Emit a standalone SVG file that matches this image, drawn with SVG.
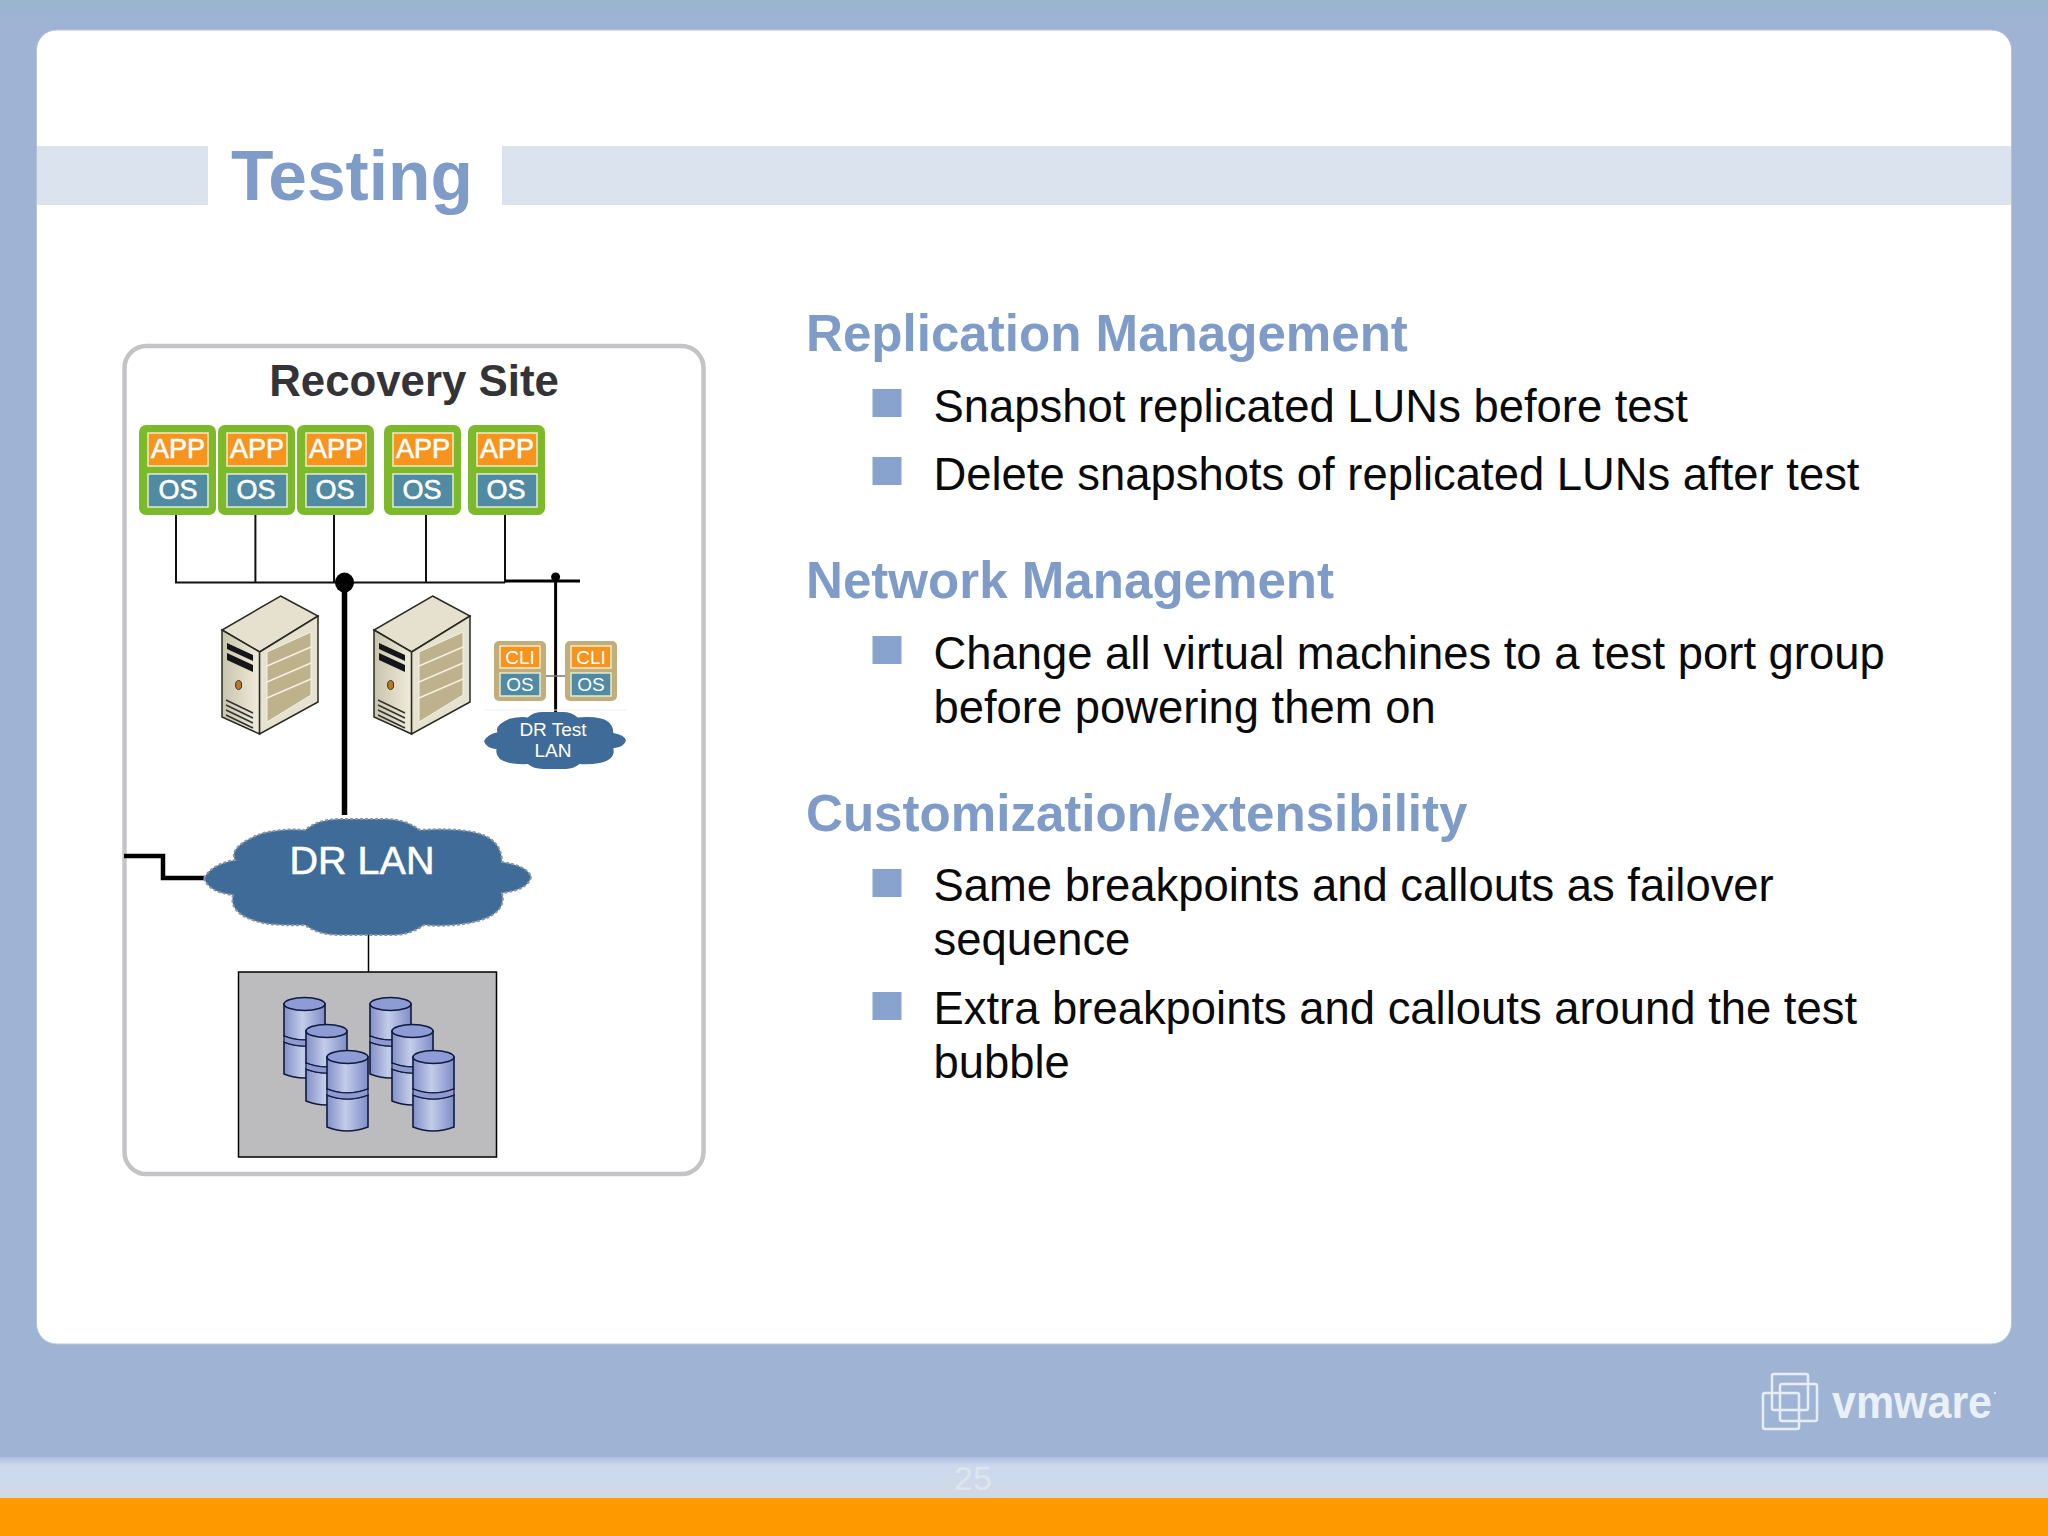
<svg xmlns="http://www.w3.org/2000/svg" xmlns:xlink="http://www.w3.org/1999/xlink" width="2048" height="1536" viewBox="0 0 2048 1536">
<style>
text{font-family:"Liberation Sans",Arial,sans-serif}
.h{font-size:51.100px;font-weight:700;fill:#7f9cc8}
.b{font-size:45.400px;fill:#0a0a0a}
.bu{fill:#88a3cd}
.vm{fill:#7cba2c}
.app{fill:#f7941d;stroke:#f4ecc4;stroke-width:1.5}
.os{fill:#508aa3;stroke:#e2ecd0;stroke-width:1.5}
.w{fill:#fff;text-anchor:middle}
.st{stroke:#fff;stroke-width:.6}
.c1{stroke:#111;stroke-width:2;fill:none}
.c2{stroke:#000;fill:none}
</style>
<defs>
<linearGradient id="bg" x1="0" y1="0" x2="0" y2="1"><stop offset="0" stop-color="#9ab5d0"/><stop offset=".02" stop-color="#9fb3d4"/><stop offset="1" stop-color="#9fb4d4"/></linearGradient>
<linearGradient id="strip" x1="0" y1="0" x2="0" y2="1"><stop offset="0" stop-color="#aec0de"/><stop offset=".2" stop-color="#cbd8ee"/><stop offset=".6" stop-color="#ced9ea"/><stop offset="1" stop-color="#d2dae0"/></linearGradient>
<linearGradient id="cyl" x1="0" y1="0" x2="1" y2="0"><stop offset="0" stop-color="#8390c8"/><stop offset=".45" stop-color="#c3cde8"/><stop offset="1" stop-color="#7f8dc8"/></linearGradient>
<linearGradient id="fl" x1="0" y1="0" x2="1" y2="0"><stop offset="0" stop-color="#c8c4ac"/><stop offset="1" stop-color="#f0ecdc"/></linearGradient>
<path id="cloud" d="M204 878Q212 864 235 860Q228 846 263 833Q285 828 305 830Q318 819 340 819L386 819Q405 819 420 830Q452 828 473 832Q502 838 502 862Q528 866 531 877Q528 890 502 893Q508 915 470 923Q445 927 424 925Q410 935 393 935L340 935Q318 935 305 925Q280 926 263 923Q228 915 233 895Q208 892 204 878Z"/>
<g id="cylinder">
<path d="M0 7V39Q20 47 41 39V7Z" fill="url(#cyl)" stroke="#101a40" stroke-width="1.6"/>
<path d="M0 45V77Q20 85 41 77V45Q20 53 0 45Z" fill="url(#cyl)" stroke="#101a40" stroke-width="1.6"/>
<path d="M0 39Q20 47 41 39V45Q20 53 0 45Z" fill="#8f9bd0" stroke="#101a40" stroke-width="1.2"/>
<ellipse cx="20.500" cy="7" rx="20.500" ry="6.500" fill="#8d9cd4" stroke="#101a40" stroke-width="1.6"/>
</g>
<g id="cylgroup">
<use xlink:href="#cylinder" href="#cylinder" x="0" y="0"/>
<use xlink:href="#cylinder" href="#cylinder" x="22" y="27"/>
<use xlink:href="#cylinder" href="#cylinder" x="43" y="53"/>
</g>
<g id="server">
<path d="M280.600 596L318 616L259.600 652L222 630Z" fill="#e6e1cf" stroke="#2a2a20" stroke-width="1.500"/>
<path d="M222 630L259.600 652V734L222 717Z" fill="url(#fl)" stroke="#2a2a20" stroke-width="1.500"/>
<path d="M259.600 652L318 616V702L259.600 734Z" fill="#e6e2d0" stroke="#2a2a20" stroke-width="1.500"/>
<path d="M267 652L311 632V695L267 722Z" fill="#bdb28c" stroke="#f5f1e0" stroke-width="1"/>
<path d="M267 666L311 647M267 682L311 663M267 698L311 679" stroke="#f5f1e0" stroke-width="1.500" fill="none"/>
<path d="M227 643L253 655V661L227 649ZM227 653L253 665V672L227 660Z" fill="#15151a"/>
<ellipse cx="238.600" cy="685" rx="3" ry="4.500" fill="#b87a20" stroke="#333" stroke-width="1"/>
<path d="M226 700L253 713M226 705L253 718M226 710L253 723M226 715L253 728" stroke="#333" stroke-width="1.500" fill="none"/>
</g>
</defs>

<rect width="2048" height="1536" fill="url(#bg)"/>
<rect x="36.500" y="30" width="1975" height="1314" rx="20" fill="#fff" stroke="#b4c3da" stroke-width="1"/>
<rect x="37" y="146" width="171" height="59" fill="#dbe3ee"/>
<rect x="502" y="146" width="1509" height="59" fill="#dbe3ee"/>
<rect y="1457" width="2048" height="41" fill="url(#strip)"/>
<rect y="1498" width="2048" height="38" fill="#ff9900"/>
<text x="973" y="1490" text-anchor="middle" font-size="34" fill="#dbe6ee">25</text>
<text x="231" y="200" font-size="69.500" font-weight="700" fill="#7f9cc8">Testing</text>

<g id="content-text">
<text class="h" x="806" y="351">Replication Management</text>
<rect class="bu" x="872.500" y="389" width="29" height="28"/>
<text class="b" x="933.500" y="422">Snapshot replicated LUNs before test</text>
<rect class="bu" x="872.500" y="457" width="29" height="28"/>
<text class="b" x="933.500" y="490">Delete snapshots of replicated LUNs after test</text>
<text class="h" x="806" y="598">Network Management</text>
<rect class="bu" x="872.500" y="636" width="29" height="28"/>
<text class="b" x="933.500" y="669">Change all virtual machines to a test port group</text>
<text class="b" x="933.500" y="723">before powering them on</text>
<text class="h" x="806" y="831">Customization/extensibility</text>
<rect class="bu" x="872.500" y="869" width="29" height="28"/>
<text class="b" x="933.500" y="901">Same breakpoints and callouts as failover</text>
<text class="b" x="933.500" y="955">sequence</text>
<rect class="bu" x="872.500" y="992" width="29" height="28"/>
<text class="b" x="933.500" y="1024">Extra breakpoints and callouts around the test</text>
<text class="b" x="933.500" y="1078">bubble</text>
</g>

<g id="recovery-site">
<rect x="124.500" y="346" width="579" height="828" rx="22" fill="#fff" stroke="#c4c4c8" stroke-width="4.500"/>
<text x="414" y="396" text-anchor="middle" font-size="43.800" font-weight="700" fill="#333338">Recovery Site</text>
</g>

<g id="connectors">
<path class="c1" d="M176 515V582.500H505M255.400 515V582.500M334 515V582.500M426 515V582.500M505 515V582.500"/>
<path class="c2" stroke-width="3" d="M505 581H580"/>
<path class="c2" stroke-width="5.500" d="M344.500 582V815"/>
<ellipse cx="344.500" cy="582.500" rx="9.500" ry="10"/>
<path class="c2" stroke-width="3" d="M555.600 577V712"/>
<circle cx="555.600" cy="577" r="4.500"/>
<path d="M546 676H565" stroke="#777" stroke-width="1.500"/>
<path class="c2" stroke-width="4.500" d="M124 856H163V878H204"/>
<path class="c2" stroke-width="1.500" d="M368.500 935V972"/>
<path d="M484 710H626" stroke="#eeeeee" stroke-width="1"/>
</g>

<g id="vm1"><rect class="vm" x="139" y="425" width="77" height="90" rx="7"/><rect class="app" x="148" y="433" width="60" height="33"/><rect class="os" x="148" y="474" width="60" height="33"/><text class="w st" x="178" y="458" font-size="27">APP</text><text class="w st" x="178" y="499" font-size="27">OS</text></g>
<g id="vm2"><rect class="vm" x="218" y="425" width="77" height="90" rx="7"/><rect class="app" x="227" y="433" width="60" height="33"/><rect class="os" x="227" y="474" width="60" height="33"/><text class="w st" x="257" y="458" font-size="27">APP</text><text class="w st" x="256" y="499" font-size="27">OS</text></g>
<g id="vm3"><rect class="vm" x="297" y="425" width="77" height="90" rx="7"/><rect class="app" x="306" y="433" width="60" height="33"/><rect class="os" x="306" y="474" width="60" height="33"/><text class="w st" x="336" y="458" font-size="27">APP</text><text class="w st" x="335" y="499" font-size="27">OS</text></g>
<g id="vm4"><rect class="vm" x="384" y="425" width="77" height="90" rx="7"/><rect class="app" x="393" y="433" width="60" height="33"/><rect class="os" x="393" y="474" width="60" height="33"/><text class="w st" x="423" y="458" font-size="27">APP</text><text class="w st" x="422" y="499" font-size="27">OS</text></g>
<g id="vm5"><rect class="vm" x="468" y="425" width="77" height="90" rx="7"/><rect class="app" x="477" y="433" width="60" height="33"/><rect class="os" x="477" y="474" width="60" height="33"/><text class="w st" x="507" y="458" font-size="27">APP</text><text class="w st" x="506" y="499" font-size="27">OS</text></g>

<g id="server1"><use xlink:href="#server" href="#server"/></g>
<g id="server2"><use xlink:href="#server" href="#server" x="152"/></g>

<g id="cli1"><rect x="494" y="641" width="52" height="60" rx="5" fill="#c2ad7d"/><rect class="app" x="500" y="646" width="40" height="22"/><rect class="os" x="500" y="673" width="40" height="23"/><text class="w" x="520" y="664" font-size="19">CLI</text><text class="w" x="520" y="691" font-size="19">OS</text></g>
<g id="cli2"><rect x="565" y="641" width="52" height="60" rx="5" fill="#c2ad7d"/><rect class="app" x="571" y="646" width="40" height="22"/><rect class="os" x="571" y="673" width="40" height="23"/><text class="w" x="591" y="664" font-size="19">CLI</text><text class="w" x="591" y="691" font-size="19">OS</text></g>

<g id="dr-test-lan"><use xlink:href="#cloud" href="#cloud" transform="translate(484 712) scale(.434 .491) translate(-204 -819)" fill="#3f6b98"/><text class="w" x="553" y="736" font-size="19">DR Test</text><text class="w" x="553" y="757" font-size="19">LAN</text></g>
<g id="dr-lan"><use xlink:href="#cloud" href="#cloud" fill="#3f6b98" stroke="#8a96a4" stroke-width="2" stroke-dasharray="3 2"/><text class="w st" x="362" y="874" font-size="39.500" stroke-width="1">DR LAN</text></g>

<g id="storage">
<rect x="238.500" y="972" width="258" height="185" fill="#bcbcbe" stroke="#000" stroke-width="1.500"/>
<use xlink:href="#cylgroup" href="#cylgroup" x="284" y="997"/>
<use xlink:href="#cylgroup" href="#cylgroup" x="370" y="997"/>
</g>

<g id="vmware-logo" fill="none" stroke="#e6edf6" stroke-width="2.500">
<rect x="1772" y="1374" width="36" height="36" rx="2"/>
<rect x="1780" y="1384" width="37" height="37" rx="2"/>
<rect x="1763" y="1393" width="36" height="36" rx="2"/>
<text x="1832" y="1418" font-size="46" font-weight="700" stroke="none" fill="#e9f0f7" textLength="160" lengthAdjust="spacingAndGlyphs">vmware</text>
<circle cx="1995" cy="1393" r="1" fill="#e9f0f7" stroke="none"/>
</g>
</svg>
